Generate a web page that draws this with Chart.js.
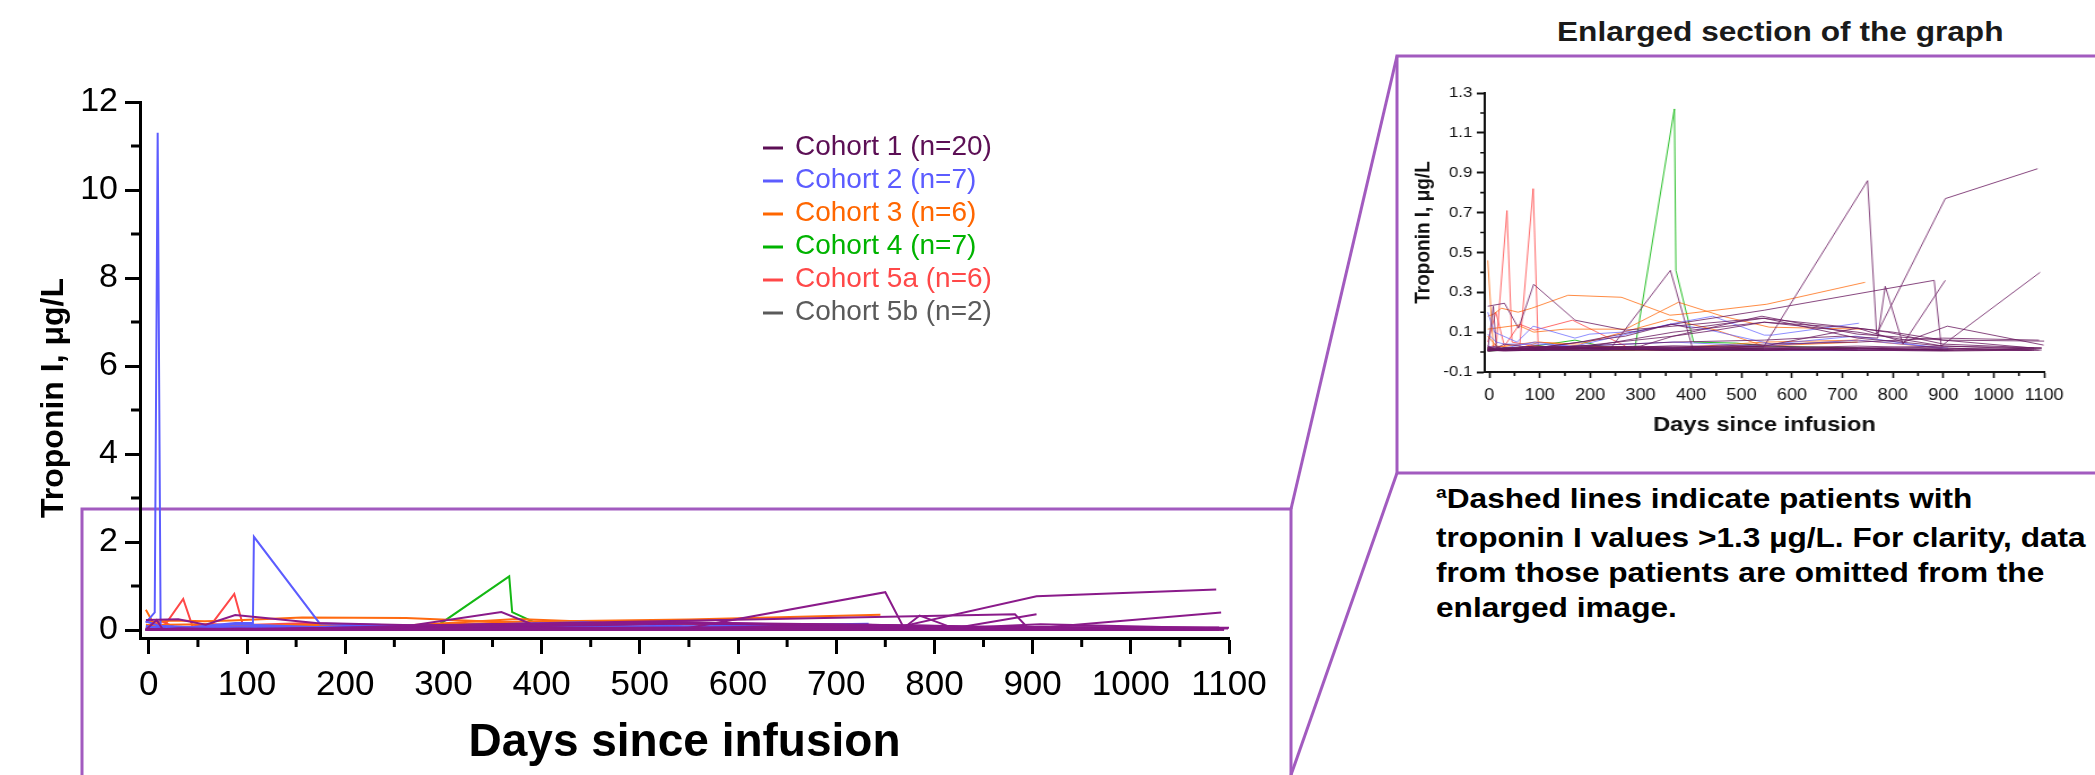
<!DOCTYPE html>
<html>
<head>
<meta charset="utf-8">
<script src="https://cdn.jsdelivr.net/npm/chart.js@4.4.1/dist/chart.umd.min.js"></script>
<style>
  html, body { margin: 0; padding: 0; background: #fff; }
  body { width: 2095px; height: 775px; position: relative; overflow: hidden; font-family: "Liberation Sans", Arial, sans-serif; }
  #frame { position: absolute; left: 0; top: 0; }
  #mainWrap { position: absolute; left: 0; top: 0; width: 1300px; height: 775px; }
  #insetWrap { position: absolute; left: 1400px; top: 60px; width: 612px; height: 410px; transform: scaleX(1.13); transform-origin: 0 0; }
  .stretch { position: absolute; transform: scaleX(1.13); transform-origin: 0 0; font-weight: bold; white-space: nowrap; }
  #insetTitle { left: 1557px; top: 18px; font-size: 28px; line-height: 28px; color: #1a1a1a; }
  #footnote { left: 1436px; top: 481px; font-size: 28px; line-height: 35px; color: #000; }
  #footnote .sup { font-size: 17px; position: relative; top: -10px; }
</style>
</head>
<body>
<svg id="frame" width="2095" height="775">
  <g fill="none" stroke="#a25bbf" stroke-width="3">
    <polyline points="82,775 82,509 1291,509 1291,775" />
    <line x1="1291" y1="509" x2="1397" y2="56" />
    <line x1="1291" y1="775" x2="1397" y2="473" />
    <polyline points="2095,56 1397,56 1397,473 2095,473" />
  </g>
</svg>
<div id="mainWrap"><canvas id="mainChart" width="1300" height="775"></canvas></div>
<div id="insetWrap"><canvas id="insetChart" width="612" height="410"></canvas></div>
<div id="insetTitle" class="stretch">Enlarged section of the graph</div>
<div id="footnote" class="stretch"><span class="sup">a</span>Dashed lines indicate patients with<br>troponin I values &gt;1.3 µg/L. For clarity, data<br>from those patients are omitted from the<br>enlarged image.</div>

<script>
// cohorts
const cohortNames = ['Cohort 1 (n=20)', 'Cohort 2 (n=7)', 'Cohort 3 (n=6)', 'Cohort 4 (n=7)', 'Cohort 5a (n=6)', 'Cohort 5b (n=2)'];
const legendColors = ['#5c0f55', '#5c5cff', '#ff6600', '#00b300', '#ff4848', '#5a5a5a'];
const mainLineColors = ['#8a1a8a', '#5c5cff', '#ff6a10', '#14b814', '#ff4848', '#666666'];
const insetLineColors = ['rgba(105,25,95,0.8)', 'rgba(92,92,255,0.7)', 'rgba(255,110,20,0.8)', 'rgba(20,185,20,0.9)', 'rgba(255,70,70,0.8)', 'rgba(90,90,90,0.7)'];

// ticks
const mainXTicks = [0, 100, 200, 300, 400, 500, 600, 700, 800, 900, 1000, 1100];
const mainXMinor = [50, 150, 250, 350, 450, 550, 650, 750, 850, 950, 1050];
const mainYTicks = [0, 2, 4, 6, 8, 10, 12];
const mainYMinor = [1, 3, 5, 7, 9, 11];
const insetYTicks = [-0.1, 0.1, 0.3, 0.5, 0.7, 0.9, 1.1, 1.3];
const insetYMinor = [0, 0.2, 0.4, 0.6, 0.8, 1.0, 1.2];

// patients: [days since infusion, troponin I (µg/L)]
const cohort1 = [
  [[-3, 30, 58, 88, 170, 270, 365, 540, 730, 790, 900, 1095], [0.23, 0.245, 0.12, 0.34, 0.16, 0.11, 0.13, 0.17, 0.12, 0.10, 0.04, 0.02]],
  [[-3, 14, 30, 90, 180, 238, 359, 404, 540, 730, 900, 1095], [0.01, 0.01, 0.02, 0.01, 0.01, 0.01, 0.41, 0.01, 0.01, 0.02, 0.01, 0.01]],
  [[-3, 30, 90, 180, 365, 545, 750, 768, 904, 1087], [0.02, 0.01, 0.02, 0.02, 0.03, 0.03, 0.86, 0.09, 0.77, 0.92]],
  [[-3, 90, 180, 365, 545, 700, 770, 785, 820, 904], [0.01, 0.02, 0.03, 0.05, 0.06, 0.08, 0.07, 0.33, 0.04, 0.36]],
  [[-3, 30, 90, 180, 365, 545, 882, 896, 1092], [0.01, 0.01, 0.02, 0.05, 0.14, 0.21, 0.36, 0.03, 0.40]],
  [[-3, 90, 180, 365, 545, 730, 822, 908, 1099], [0.01, 0.02, 0.02, 0.10, 0.15, 0.12, 0.05, 0.13, 0.035]],
  [[-3, 8, 14, 30, 90, 180, 365, 540, 730, 900, 1100], [0.01, 0.23, 0.02, 0.04, 0.02, 0.03, 0.08, 0.18, 0.09, 0.06, 0.055]],
  [[-3, 30, 90, 180, 270, 360, 400, 545, 730, 900, 1095], [0.005, 0.01, 0.02, 0.05, 0.08, 0.14, 0.12, 0.17, 0.07, 0.03, 0.02]],
  [[-3, 30, 90, 180, 300, 365, 450, 545, 730, 900], [0.01, 0.01, 0.01, 0.02, 0.03, 0.08, 0.11, 0.15, 0.10, 0.03]],
  [[-3, 14, 90, 180, 365, 545, 730, 800, 900, 1080], [0.02, 0.01, 0.03, 0.02, 0.02, 0.03, 0.12, 0.10, 0.06, 0.02]],
  [[-3, 30, 90, 180, 365, 545, 730, 900, 1080], [0.01, 0.01, 0.01, 0.02, 0.01, 0.02, 0.03, 0.02, 0.01]],
  [[-3, 30, 90, 180, 365, 545, 730, 900, 1085], [0.005, 0.01, 0.02, 0.01, 0.01, 0.01, 0.02, 0.03, 0.015]],
  [[-3, 14, 30, 90, 180, 365, 545, 730, 900, 1090], [0.02, 0.03, 0.01, 0.01, 0.02, 0.02, 0.04, 0.05, 0.07, 0.06]],
  [[-3, 30, 90, 180, 365, 545, 730, 910], [0.01, 0.02, 0.02, 0.03, 0.02, 0.01, 0.01, 0.01]],
  [[-3, 30, 90, 180, 365, 545, 730, 900, 1070], [0.01, 0.005, 0.01, 0.01, 0.02, 0.02, 0.01, 0.02, 0.01]],
  [[-3, 14, 90, 180, 365, 545, 730, 900, 1095], [0.03, 0.01, 0.02, 0.02, 0.01, 0.03, 0.02, 0.01, 0.02]],
  [[-3, 30, 90, 180, 365, 545, 730, 900], [0.01, 0.01, 0.01, 0.01, 0.01, 0.01, 0.01, 0.01]],
  [[-3, 30, 90, 180, 365, 545, 730, 920], [0.02, 0.02, 0.01, 0.02, 0.03, 0.02, 0.02, 0.01]],
  [[-3, 30, 90, 180, 365, 545, 730, 900, 1075], [0.01, 0.02, 0.03, 0.02, 0.01, 0.02, 0.01, 0.005, 0.01]],
  [[-3, 14, 30, 90, 180, 365, 545, 730, 900, 1090], [0.005, 0.01, 0.01, 0.01, 0.02, 0.01, 0.01, 0.02, 0.01, 0.01]]
];
const cohort2 = [
  [[-3, 10, 55, 87, 170, 199, 294, 370, 443, 545, 560, 733], [0.20, 0.10, 0.05, 0.13, 0.07, 0.09, 0.105, 0.146, 0.18, 0.085, 0.085, 0.145]],
  [[-3, 14, 30, 90, 170, 360, 420, 560, 726, 914], [0.09, 0.05, 0.04, 0.04, 0.03, 0.14, 0.12, 0.04, 0.08, 0.01]],
  [[-3, 14, 60, 180, 365, 540, 730, 910], [0.03, 0.02, 0.02, 0.03, 0.05, 0.03, 0.06, 0.02]],
  [[-3, 30, 90, 180, 365, 540, 730], [0.01, 0.02, 0.05, 0.02, 0.02, 0.01, 0.01]],
  [[-3, 30, 90, 180, 365, 540, 900], [0.01, 0.01, 0.01, 0.01, 0.02, 0.01, 0.01]],
  [[-3, 6, 9, 12, 30, 60, 90, 180, 270, 365, 540, 730, 900], [0.17, 0.40, 11.3, 0.05, 0.06, 0.07, 0.08, 0.06, 0.05, 0.07, 0.05, 0.06, 0.04]],
  [[-3, 14, 45, 88, 106, 107, 174, 270, 365, 540, 730], [0.05, 0.08, 0.07, 0.16, 0.16, 2.12, 0.15, 0.10, 0.10, 0.08, 0.05]]
];
const cohort3 = [
  [[-3, 8, 24, 57, 84, 156, 262, 358, 381, 550, 745], [0.18, 0.19, 0.22, 0.20, 0.22, 0.285, 0.275, 0.185, 0.19, 0.24, 0.35]],
  [[-3, 57, 88, 150, 270, 375, 462, 555, 740], [0.115, 0.135, 0.10, 0.115, 0.115, 0.25, 0.18, 0.125, 0.115]],
  [[-3, 8, 30, 90, 180, 358, 450, 545, 730], [0.46, 0.02, 0.03, 0.05, 0.04, 0.165, 0.11, 0.03, 0.05]],
  [[-3, 14, 60, 100, 180, 365, 545, 730], [0.08, 0.03, 0.02, 0.05, 0.03, 0.02, 0.03, 0.06]],
  [[-3, 30, 90, 180, 365, 545, 730, 900], [0.02, 0.01, 0.03, 0.02, 0.02, 0.05, 0.06, 0.02]],
  [[-3, 30, 90, 180, 365, 545, 730], [0.01, 0.01, 0.02, 0.01, 0.01, 0.01, 0.01]]
];
const cohort4 = [
  [[-3, 30, 90, 180, 288, 367, 370, 405, 490, 550, 730], [0.01, 0.01, 0.01, 0.01, 0.01, 1.22, 0.41, 0.05, 0.045, 0.03, 0.02]],
  [[-3, 30, 90, 170, 240, 365, 545], [0.02, 0.01, 0.03, 0.06, 0.02, 0.01, 0.01]],
  [[-3, 30, 90, 180, 365, 545], [0.01, 0.02, 0.02, 0.03, 0.02, 0.01]],
  [[-3, 14, 90, 180, 365, 545], [0.02, 0.01, 0.01, 0.02, 0.01, 0.02]],
  [[-3, 30, 90, 180, 365], [0.01, 0.01, 0.02, 0.01, 0.01]],
  [[-3, 30, 90, 180, 365, 545], [0.005, 0.01, 0.01, 0.02, 0.01, 0.01]],
  [[-3, 30, 90, 180], [0.01, 0.02, 0.01, 0.01]]
];
const cohort5a = [
  [[-3, 14, 35, 45, 90, 180, 270], [0.02, 0.04, 0.71, 0.05, 0.03, 0.02, 0.02]],
  [[-3, 14, 30, 60, 87, 97, 180, 270], [0.01, 0.02, 0.02, 0.02, 0.82, 0.02, 0.02, 0.01]],
  [[-3, 13, 30, 60, 90, 165, 270], [0.05, 0.20, 0.03, 0.14, 0.11, 0.16, 0.03]],
  [[-3, 14, 30, 90, 180], [0.03, 0.01, 0.02, 0.02, 0.01]],
  [[-3, 30, 90, 180], [0.01, 0.02, 0.01, 0.01]],
  [[-3, 14, 60, 180], [0.02, 0.02, 0.01, 0.02]]
];
const cohort5b = [
  [[-3, 14, 30, 90], [0.01, 0.02, 0.01, 0.01]],
  [[-3, 30, 90], [0.02, 0.01, 0.02]]
];
const cohorts = [cohort1, cohort2, cohort3, cohort4, cohort5a, cohort5b];

const FONT = "'Liberation Sans', Arial, sans-serif";
Chart.defaults.font.family = FONT;

function buildDatasets(colors, width, limit) {
  const sets = [];
  cohorts.forEach((patients, ci) => {
    patients.forEach(([days, vals]) => {
      // the enlarged view leaves out patients above the limit
      if (limit !== undefined && Math.max(...vals) > limit) return;
      sets.push({
        label: cohortNames[ci],
        data: days.map((d, i) => ({ x: d, y: vals[i] })),
        borderColor: colors[ci],
        borderWidth: width,
        pointRadius: 0,
        fill: false,
        tension: 0
      });
    });
  });
  return sets;
}

function setTicks(list) {
  return scale => { scale.ticks = list.map(v => ({ value: v })); };
}

function minorTicks(chart, xList, yList, len, width, color) {
  const { ctx, chartArea, scales } = chart;
  ctx.save();
  ctx.strokeStyle = color;
  ctx.lineWidth = width;
  ctx.beginPath();
  xList.forEach(v => {
    const px = scales.x.getPixelForValue(v);
    ctx.moveTo(px, chartArea.bottom);
    ctx.lineTo(px, chartArea.bottom + len.x);
  });
  yList.forEach(v => {
    const py = scales.y.getPixelForValue(v);
    ctx.moveTo(chartArea.left, py);
    ctx.lineTo(chartArea.left - len.y, py);
  });
  ctx.stroke();
  ctx.restore();
}

// main chart: minor ticks, y title, legend
const mainDecor = {
  id: 'mainDecor',
  afterDraw(chart) {
    minorTicks(chart, mainXMinor, mainYMinor, { x: 9, y: 9 }, 3, '#000');
    const ctx = chart.ctx;
    ctx.save();
    ctx.translate(54, 398);
    ctx.rotate(-Math.PI / 2);
    ctx.font = 'bold 32px ' + FONT;
    ctx.fillStyle = '#000';
    ctx.textAlign = 'center';
    ctx.textBaseline = 'middle';
    ctx.fillText('Troponin I, μg/L', 0, 0);
    ctx.restore();

    ctx.save();
    ctx.font = '28px ' + FONT;
    ctx.textBaseline = 'middle';
    cohortNames.forEach((name, i) => {
      const y = 147 + i * 33;
      ctx.strokeStyle = legendColors[i];
      ctx.lineWidth = 3;
      ctx.beginPath();
      ctx.moveTo(763, y + 1);
      ctx.lineTo(783, y + 1);
      ctx.stroke();
      ctx.fillStyle = legendColors[i];
      ctx.fillText(name, 795, y);
    });
    ctx.restore();
  }
};

const insetDecor = {
  id: 'insetDecor',
  afterDraw(chart) {
    minorTicks(chart, mainXMinor, insetYMinor, { x: 4, y: 4 }, 1.6, '#111');
  }
};

const plainNumber = v => String(v);

new Chart(document.getElementById('mainChart'), {
  type: 'line',
  data: { datasets: buildDatasets(mainLineColors, 2) },
  plugins: [mainDecor],
  options: {
    responsive: false,
    animation: false,
    events: [],
    layout: { padding: { left: 0, right: 71, top: 102, bottom: 0 } },
    plugins: { legend: { display: false }, tooltip: { enabled: false } },
    scales: {
      x: {
        type: 'linear', min: -9, max: 1100,
        afterBuildTicks: setTicks(mainXTicks),
        afterFit: s => { s.height = 137; },
        ticks: { color: '#000', font: { size: 35 }, padding: 10, maxRotation: 0, autoSkip: false, callback: plainNumber },
        grid: { drawOnChartArea: false, tickLength: 16, tickWidth: 3, tickColor: '#000' },
        border: { display: true, width: 3, color: '#000' },
        title: { display: true, text: 'Days since infusion', color: '#000', font: { size: 46, weight: 'bold' }, padding: { top: 0, bottom: 4 } }
      },
      y: {
        type: 'linear', min: -0.18, max: 12,
        afterBuildTicks: setTicks(mainYTicks),
        afterFit: s => { s.width = 140; },
        ticks: { color: '#000', font: { size: 34 }, padding: 7, callback: plainNumber },
        grid: { drawOnChartArea: false, tickLength: 15, tickWidth: 3, tickColor: '#000' },
        border: { display: true, width: 3, color: '#000' }
      }
    }
  }
});

new Chart(document.getElementById('insetChart'), {
  type: 'line',
  data: { datasets: buildDatasets(insetLineColors, 1, 1.3) },
  plugins: [insetDecor],
  options: {
    responsive: false,
    animation: false,
    events: [],
    layout: { padding: { left: 0, right: 42, top: 33, bottom: 0 } },
    plugins: { legend: { display: false }, tooltip: { enabled: false } },
    scales: {
      x: {
        type: 'linear', min: -9, max: 1100,
        afterBuildTicks: setTicks(mainXTicks),
        afterFit: s => { s.height = 98; },
        ticks: { color: '#111', font: { size: 16 }, padding: 8, maxRotation: 0, autoSkip: false, callback: plainNumber },
        grid: { drawOnChartArea: false, tickLength: 6, tickWidth: 1.6, tickColor: '#111' },
        border: { display: true, width: 2, color: '#111' },
        title: { display: true, text: 'Days since infusion', color: '#111', font: { size: 21, weight: 'bold' }, padding: { top: 0, bottom: 32 } }
      },
      y: {
        type: 'linear', min: -0.1, max: 1.3,
        afterBuildTicks: setTicks(insetYTicks),
        afterFit: s => { s.width = 75; },
        ticks: { color: '#111', font: { size: 15 }, padding: 4, callback: v => v.toFixed(1) },
        grid: { drawOnChartArea: false, tickLength: 7, tickWidth: 2, tickColor: '#111' },
        border: { display: true, width: 2, color: '#111' },
        title: { display: true, text: 'Troponin I, μg/L', color: '#111', font: { size: 19, weight: 'bold' }, padding: { top: 9, bottom: 0 } }
      }
    }
  }
});
</script>
</body>
</html>
